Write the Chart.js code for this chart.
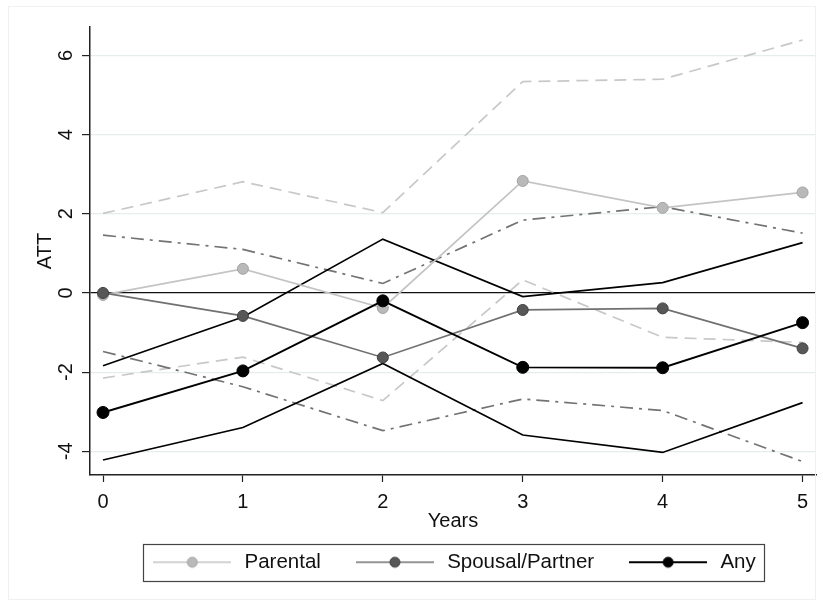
<!DOCTYPE html>
<html><head><meta charset="utf-8">
<script src="https://cdn.jsdelivr.net/npm/chart.js@4.4.1/dist/chart.umd.min.js"></script>
<style>
html,body{margin:0;padding:0;background:#fff;}
#wrap{position:relative;width:823px;height:606px;}
#frame{position:absolute;left:8px;top:6px;width:806px;height:592px;border:1px solid #eef1f1;pointer-events:none;}
canvas{position:absolute;left:0;top:0;}
</style></head><body>
<div id="wrap"><canvas id="c" width="823" height="606"></canvas><div id="frame"></div></div>
<script>
const years = [0, 1, 2, 3, 4, 5];
const yTicks = [-4, -2, 0, 2, 4, 6];
const seriesNames = ['Parental', 'Spousal/Partner', 'Any'];
const parental   = [-0.05, 0.61, -0.38, 2.83, 2.15, 2.54];
const parentalHi = [2.01, 2.81, 2.03, 5.34, 5.40, 6.39];
const parentalLo = [-2.15, -1.62, -2.72, 0.33, -1.12, -1.25];
const spousal    = [0.00, -0.58, -1.63, -0.43, -0.39, -1.40];
const spousalHi  = [1.46, 1.10, 0.24, 1.84, 2.18, 1.51];
const spousalLo  = [-1.48, -2.37, -3.48, -2.68, -2.97, -4.26];
const anyv       = [-3.02, -1.97, -0.20, -1.88, -1.89, -0.75];
const anyHi      = [-1.84, -0.61, 1.36, -0.09, 0.26, 1.27];
const anyLo      = [-4.22, -3.40, -1.78, -3.59, -4.03, -2.77];

const FAM = '"Liberation Sans", Arial, sans-serif';
const pts = arr => years.map((x, i) => ({x: x, y: arr[i]}));

const styles = [
  {line: '#c4c4c4', fill: '#b9b9b9', edge: '#a2a2a2', r: 5.5, w: 1.7},
  {line: '#717171', fill: '#575757', edge: '#3f3f3f', r: 5.5, w: 1.7},
  {line: '#000000', fill: '#000000', edge: '#000000', r: 6, w: 1.9}
];

function makeIcon(s) {
  const c = document.createElement('canvas');
  c.width = 78; c.height = 14;
  const g = c.getContext('2d');
  g.strokeStyle = s.line; g.lineWidth = s.w;
  g.beginPath(); g.moveTo(0, 7); g.lineTo(78, 7); g.stroke();
  g.beginPath(); g.arc(39, 7, 5, 0, Math.PI * 2);
  g.fillStyle = s.fill; g.fill();
  g.strokeStyle = s.edge; g.lineWidth = 1; g.stroke();
  return c;
}
const icons = styles.map(makeIcon);

function mainDs(label, arr, s, order) {
  return {label: label, data: pts(arr), borderColor: s.line, borderWidth: s.w,
    pointRadius: s.r, pointBackgroundColor: s.fill, pointBorderColor: s.edge,
    pointBorderWidth: 1, tension: 0, fill: false, order: order};
}
function ciDs(label, arr, color, dash, w, order) {
  return {label: label, data: pts(arr), borderColor: color, borderWidth: w,
    borderDash: dash, pointRadius: 0, tension: 0, fill: false, order: order};
}

const datasets = [
  mainDs(seriesNames[0], parental, styles[0], 3),
  mainDs(seriesNames[1], spousal, styles[1], 2),
  mainDs(seriesNames[2], anyv, styles[2], 1),
  ciDs('Parental upper', parentalHi, '#c8c8c8', [12, 7], 1.7, 6),
  ciDs('Parental lower', parentalLo, '#c8c8c8', [12, 7], 1.7, 6),
  ciDs('Spousal upper', spousalHi, '#737373', [13, 6, 3, 6], 1.7, 5),
  ciDs('Spousal lower', spousalLo, '#737373', [13, 6, 3, 6], 1.7, 5),
  ciDs('Any upper', anyHi, '#000000', [], 1.7, 4),
  ciDs('Any lower', anyLo, '#000000', [], 1.7, 4)
];

const legendFrame = {
  id: 'legendFrame',
  afterDraw(chart) {
    const lg = chart.legend;
    const hb = lg && lg.legendHitBoxes;
    if (!hb || !hb.length) return;
    const first = hb[0], last = hb[hb.length - 1];
    const cy = first.top + first.height / 2;
    const l = Math.round(first.left - 7), r = Math.round(last.left + last.width + 8);
    const t = Math.round(cy - 18.5);
    const ctx = chart.ctx;
    ctx.save();
    ctx.strokeStyle = '#444'; ctx.lineWidth = 1.2;
    ctx.strokeRect(l + 0.5, t + 0.5, r - l, 37);
    ctx.restore();
  }
};

const yLabels = {
  id: 'yLabels',
  afterDraw(chart) {
    const s = chart.scales.y;
    const ctx = chart.ctx;
    ctx.save();
    ctx.font = '20px ' + FAM;
    ctx.fillStyle = '#111';
    ctx.textAlign = 'center';
    ctx.textBaseline = 'middle';
    s.ticks.forEach((t, i) => {
      const py = s.getPixelForTick(i);
      ctx.save();
      ctx.translate(s.right - 24, py);
      ctx.rotate(-Math.PI / 2);
      ctx.fillText(String(t.value), 0, 0);
      ctx.restore();
    });
    ctx.restore();
  }
};

new Chart(document.getElementById('c'), {
  type: 'line',
  data: {datasets: datasets},
  options: {
    responsive: false,
    animation: false,
    devicePixelRatio: 1,
    events: [],
    layout: {padding: {top: 27, right: 5, bottom: 23.5, left: 0}},
    plugins: {
      tooltip: {enabled: false},
      legend: {
        position: 'bottom',
        fullSize: false,
        labels: {
          usePointStyle: true,
          pointStyleWidth: 84,
          padding: 32,
          color: '#111',
          font: {size: 20.5, family: FAM},
          generateLabels: () => seriesNames.map((n, i) => ({
            text: n, pointStyle: icons[i], datasetIndex: i, hidden: false,
            fillStyle: 'rgba(0,0,0,0)', strokeStyle: 'rgba(0,0,0,0)', lineWidth: 0, fontColor: '#111'
          }))
        }
      }
    },
    scales: {
      x: {
        type: 'linear', min: -0.093, max: 5.096,
        afterBuildTicks: s => { s.ticks = years.map(v => ({value: v})); },
        afterFit: s => { s.height = 45; },
        ticks: {font: {size: 20, family: FAM}, color: '#111', padding: 8, callback: v => String(v)},
        grid: {drawOnChartArea: false, tickLength: 7, tickColor: '#222', tickWidth: 1.2},
        border: {color: '#222', width: 1.5},
        title: {display: true, text: 'Years', color: '#111', font: {size: 20, family: FAM}, padding: {top: 0, bottom: -13.5}}
      },
      y: {
        type: 'linear', min: -4.6, max: 6.72,
        afterBuildTicks: s => { s.ticks = yTicks.map(v => ({value: v})); },
        afterFit: s => { s.width = 90; },
        ticks: {display: false},
        grid: {
          color: c => (c.tick && c.tick.value === 0) ? '#111' : '#e6eded',
          lineWidth: 1.2, tickLength: 8, tickColor: '#222', tickWidth: 1.2
        },
        border: {color: '#222', width: 1.5},
        title: {display: true, text: 'ATT', color: '#111', font: {size: 20, family: FAM}, padding: {top: 33, bottom: 0}}
      }
    }
  },
  plugins: [legendFrame, yLabels]
});
</script>
</body></html>
